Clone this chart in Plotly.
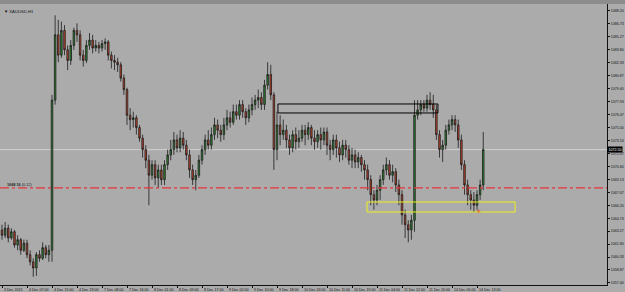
import plotly.graph_objects as go

# ---- data (XAUUSD H1) ----
bar_index = list(range(155))
opens = [1063.4,1062.8,1063.6,1062.5,1063.2,1061.7,1062.3,1061.1,1061.9,1060.6,1059.8,1059.1,1060.6,1060.2,1061.4,1060.6,
 1061.1,1078.1,1085.5,1083.2,1086.0,1083.8,1082.6,1084.3,1086.0,1085.5,1083.2,1082.6,1084.3,1084.9,1084.0,1084.3,
 1084.0,1084.5,1084.7,1083.2,1082.6,1082.4,1082.1,1080.6,1079.3,1076.4,1075.9,1076.1,1075.0,1073.8,1072.5,1071.3,
 1069.6,1070.8,1069.3,1070.2,1069.1,1070.8,1071.9,1072.5,1073.6,1072.7,1073.8,1073.0,1071.9,1070.2,1069.1,1069.6,
 1071.3,1072.5,1073.6,1073.0,1074.2,1075.3,1074.7,1074.2,1075.3,1076.1,1075.6,1076.8,1076.4,1077.6,1076.8,1076.1,
 1077.0,1077.6,1078.1,1078.4,1077.6,1079.8,1081.0,1078.7,1072.5,1075.3,1074.2,1074.7,1073.6,1072.7,1074.2,1073.4,
 1073.8,1074.7,1074.2,1075.0,1073.8,1073.4,1074.2,1073.6,1074.5,1073.0,1072.5,1073.6,1072.7,1071.9,1073.0,1072.5,
 1071.3,1071.9,1071.1,1071.6,1070.8,1070.2,1069.1,1067.4,1066.8,1067.9,1069.1,1070.2,1070.8,1069.6,1070.0,1068.5,
 1067.4,1065.1,1064.0,1063.4,1064.5,1076.4,1077.0,1077.6,1077.2,1078.1,1077.6,1077.0,1074.2,1072.5,1073.0,1074.7,
 1075.3,1075.9,1075.3,1073.6,1070.8,1068.5,1067.4,1066.8,1066.2,1067.4,1068.5]
highs = [1064.0,1064.3,1064.0,1063.6,1063.4,1062.8,1062.5,1062.3,1062.3,1061.1,1060.2,1060.9,1061.1,1062.0,1061.7,1061.7,
 1078.7,1087.7,1087.2,1087.0,1086.6,1084.3,1084.9,1086.3,1086.8,1086.0,1083.8,1084.9,1085.7,1085.5,1084.9,1084.7,
 1084.9,1085.1,1084.9,1083.6,1083.2,1082.9,1082.4,1081.0,1079.5,1077.2,1076.8,1076.4,1075.3,1074.2,1073.0,1071.9,
 1071.3,1071.3,1070.8,1070.8,1071.3,1072.5,1073.6,1074.5,1074.2,1074.7,1074.5,1073.6,1072.5,1070.8,1070.2,1071.9,
 1073.0,1074.2,1074.7,1075.0,1076.1,1075.9,1075.3,1076.1,1077.0,1076.8,1077.6,1077.6,1078.1,1078.1,1077.2,1077.6,
 1078.4,1078.7,1079.3,1079.0,1080.4,1082.4,1082.1,1079.0,1076.8,1076.4,1075.9,1075.3,1074.2,1074.7,1075.0,1074.7,
 1075.3,1075.3,1075.6,1075.3,1074.7,1074.7,1075.0,1075.0,1075.0,1073.6,1074.2,1074.2,1073.4,1073.6,1073.6,1073.0,
 1072.7,1072.5,1072.2,1071.9,1071.3,1070.8,1069.6,1067.9,1068.5,1069.6,1070.8,1071.6,1071.3,1070.8,1070.4,1069.1,
 1067.9,1065.7,1064.5,1065.1,1078.1,1078.1,1078.1,1078.1,1078.7,1079.0,1078.7,1077.6,1074.7,1073.6,1075.3,1075.9,
 1076.4,1076.4,1075.9,1074.2,1071.3,1069.1,1067.9,1067.7,1067.9,1069.1,1074.5]
lows = [1062.3,1062.5,1062.0,1062.3,1061.4,1061.1,1060.6,1060.9,1060.2,1059.4,1058.1,1058.2,1059.8,1060.0,1060.2,1059.8,
 1059.8,1077.6,1082.4,1082.9,1083.2,1081.5,1082.1,1083.8,1084.7,1082.6,1081.9,1082.3,1083.8,1083.4,1083.6,1083.4,
 1083.6,1083.8,1082.6,1081.7,1081.5,1081.3,1080.2,1078.7,1075.3,1074.7,1075.0,1074.2,1073.4,1071.6,1070.4,1066.2,
 1069.1,1068.5,1068.2,1068.5,1068.5,1070.2,1071.3,1071.9,1072.2,1072.2,1072.5,1071.3,1069.3,1068.5,1067.9,1069.3,
 1070.8,1071.9,1072.5,1072.5,1073.6,1073.8,1073.4,1073.6,1074.7,1075.0,1075.3,1075.9,1075.9,1076.1,1075.3,1075.6,
 1076.4,1077.0,1077.2,1077.0,1077.0,1079.3,1078.1,1070.2,1071.3,1073.0,1073.6,1072.7,1071.9,1072.2,1072.5,1072.7,
 1073.4,1073.0,1073.6,1073.0,1072.5,1072.7,1072.5,1073.0,1071.9,1071.3,1071.9,1071.6,1071.1,1071.3,1071.6,1070.8,
 1070.4,1070.4,1070.4,1070.0,1069.1,1067.9,1066.2,1065.7,1066.2,1066.8,1068.5,1069.6,1069.1,1068.8,1067.7,1066.2,
 1064.0,1062.5,1062.0,1062.3,1063.2,1075.9,1076.4,1076.8,1076.8,1077.0,1076.1,1073.6,1071.6,1071.1,1072.5,1074.2,
 1074.7,1074.5,1072.7,1070.2,1067.4,1066.2,1065.7,1065.4,1065.7,1066.8,1067.9]
closes = [1062.8,1063.6,1062.5,1063.2,1061.7,1062.3,1061.1,1061.9,1060.6,1059.8,1059.1,1060.6,1060.2,1061.4,1060.6,1061.1,
 1078.1,1085.5,1083.2,1086.0,1083.8,1082.6,1084.3,1086.0,1085.5,1083.2,1082.6,1084.3,1084.9,1084.0,1084.3,1084.0,
 1084.5,1084.7,1083.2,1082.6,1082.4,1082.1,1080.6,1079.3,1076.4,1075.9,1076.1,1075.0,1073.8,1072.5,1071.3,1069.6,
 1070.8,1069.3,1070.2,1069.1,1070.8,1071.9,1072.5,1073.6,1072.7,1073.8,1073.0,1071.9,1070.2,1069.1,1069.6,1071.3,
 1072.5,1073.6,1073.0,1074.2,1075.3,1074.7,1074.2,1075.3,1076.1,1075.6,1076.8,1076.4,1077.6,1076.8,1076.1,1077.0,
 1077.6,1078.1,1078.4,1077.6,1079.8,1081.0,1078.7,1072.5,1075.3,1074.2,1074.7,1073.6,1072.7,1074.2,1073.4,1073.8,
 1074.7,1074.2,1075.0,1073.8,1073.4,1074.2,1073.6,1074.5,1073.0,1072.5,1073.6,1072.7,1071.9,1073.0,1072.5,1071.3,
 1071.9,1071.1,1071.6,1070.8,1070.2,1069.1,1067.4,1066.8,1067.9,1069.1,1070.2,1070.8,1069.6,1070.0,1068.5,1067.4,
 1065.1,1064.0,1063.4,1064.5,1076.4,1077.0,1077.6,1077.2,1078.1,1077.6,1077.0,1074.2,1072.5,1073.0,1074.7,1075.3,
 1075.9,1075.3,1073.6,1070.8,1068.5,1067.4,1066.8,1066.2,1067.4,1068.5,1072.5]

time_tick_index = [0, 8, 16, 24, 32, 40, 48, 56, 64, 72, 80, 88, 96, 104, 112, 120, 128, 136, 144, 152]
time_tick_labels = ["3 Dec 2015", "4 Dec 07:00", "4 Dec 15:00", "4 Dec 23:00", "7 Dec 08:00", "7 Dec 16:00",
                    "8 Dec 01:00", "8 Dec 09:00", "8 Dec 17:00", "9 Dec 02:00", "9 Dec 10:00", "9 Dec 18:00",
                    "10 Dec 03:00", "10 Dec 11:00", "10 Dec 19:00", "11 Dec 04:00", "11 Dec 12:00",
                    "11 Dec 20:00", "14 Dec 05:00", "14 Dec 13:00"]
price_ticks = [1088.20, 1086.73, 1085.27, 1083.80, 1082.33, 1080.87, 1079.40, 1077.93, 1076.47, 1075.00,
               1073.53, 1072.07, 1070.60, 1069.13, 1067.67, 1066.20, 1064.73, 1063.27, 1061.80, 1060.33,
               1058.87, 1057.40]
price_tick_labels = ["%.2f" % v for v in price_ticks]

level_price = 1068.16
box1 = dict(i0=88.3, i1=139.5, lo=1076.65, hi=1077.67)
box2 = dict(i0=116.8, i1=164.2, lo=1065.44, hi=1066.57)
marker_index = [152.5]
marker_price = [1065.5]

BG = "#ABABAB"
TXT = "#111111"
FONT = "Liberation Sans"
fig = go.Figure()
fig.add_trace(go.Candlestick(
    x=bar_index, open=opens, high=highs, low=lows, close=closes,
    increasing=dict(line=dict(color="#1c1c1c", width=0.8), fillcolor="#2f8a2f"),
    decreasing=dict(line=dict(color="#1c1c1c", width=0.8), fillcolor="#c8452a"),
    whiskerwidth=0, hoverinfo="skip", showlegend=False))
fig.add_trace(go.Scatter(x=marker_index, y=marker_price, mode="markers",
                         marker=dict(symbol="triangle-up", size=4, color="#e03030"),
                         showlegend=False, hoverinfo="skip"))

shapes = [
    dict(type="line", xref="paper", x0=0, x1=1, y0=closes[-1], y1=closes[-1],
         line=dict(color="#cfcfcf", width=1), layer="below"),
    dict(type="line", xref="paper", x0=0, x1=1, y0=level_price, y1=level_price,
         line=dict(color="#e8343c", width=1.3, dash="dashdot")),
    dict(type="rect", x0=box1["i0"], x1=box1["i1"], y0=box1["lo"], y1=box1["hi"],
         line=dict(color="#000000", width=1)),
    dict(type="rect", x0=box2["i0"], x1=box2["i1"], y0=box2["lo"], y1=box2["hi"],
         line=dict(color="#f0f020", width=1)),
    dict(type="rect", xref="paper", yref="paper", x0=-0.01, x1=1.05, y0=1.0, y1=1.02,
         fillcolor="#8c8c8c", line=dict(width=0)),
]

annotations = []
for idx, lab in zip(time_tick_index, time_tick_labels):
    annotations.append(dict(x=idx, xref="x", y=-0.004, yref="paper", text=lab, showarrow=False,
                            xanchor="left", yanchor="top", xshift=0,
                            font=dict(size=3.6, color=TXT, family=FONT)))
annotations.append(dict(x=0.004, xref="paper", y=0.99, yref="paper", text="▼ XAUUSD,H1", showarrow=False,
                        xanchor="left", yanchor="top", font=dict(size=4.2, color=TXT, family=FONT)))
annotations.append(dict(x=0.008, xref="paper", y=level_price, yref="y", text="<b>1068.16</b> (0.12)",
                        showarrow=False, xanchor="left", yanchor="bottom", yshift=-1,
                        font=dict(size=3.8, color="#222222", family=FONT)))
annotations.append(dict(x=1.0, xref="paper", y=closes[-1], yref="y", text="%.2f" % closes[-1],
                        showarrow=False, xanchor="left", yanchor="middle", bgcolor="#000000",
                        font=dict(size=3.6, color="#ffffff", family=FONT), borderpad=0.5))

fig.update_layout(
    width=625, height=292,
    margin=dict(l=0, r=18, t=4, b=7),
    paper_bgcolor=BG, plot_bgcolor=BG,
    shapes=shapes, annotations=annotations,
    showlegend=False,
    xaxis=dict(range=[-0.64, 193.6], rangeslider=dict(visible=False), showgrid=False, zeroline=False,
               tickvals=time_tick_index, ticktext=[""] * len(time_tick_index),
               ticks="outside", ticklen=2, tickcolor=TXT,
               showline=True, linecolor=TXT, linewidth=1, mirror=False, fixedrange=True),
    yaxis=dict(range=[1057.17, 1088.99], side="right", showgrid=False, zeroline=False,
               tickvals=price_ticks, ticktext=price_tick_labels,
               ticks="outside", ticklen=2, tickcolor=TXT,
               tickfont=dict(size=3.6, color=TXT, family=FONT),
               showline=True, linecolor=TXT, linewidth=1, automargin=False, fixedrange=True),
)

fig.write_html("out.html", config={"displayModeBar": False, "staticPlot": True})
